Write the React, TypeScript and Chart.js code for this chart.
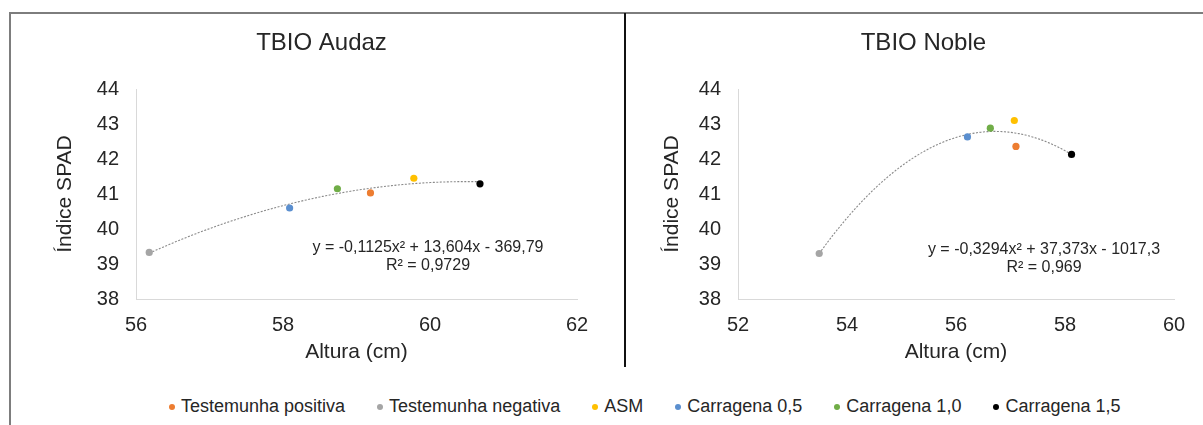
import React, { useEffect, useRef } from 'react';
import { Chart, registerables } from 'chart.js';

Chart.register(...registerables);

const FONT = '"Liberation Sans", Arial, sans-serif';
const TEXT_COLOR = '#262626';

// ---------- data ----------
const seriesLabels = [
  'Testemunha positiva',
  'Testemunha negativa',
  'ASM',
  'Carragena 0,5',
  'Carragena 1,0',
  'Carragena 1,5',
];
const seriesColors = ['#ED7D31', '#A5A5A5', '#FFC000', '#5B8FCF', '#70AD47', '#000000'];

const audazTitle = 'TBIO Audaz';
const audazAltura = [59.19, 56.18, 59.78, 58.09, 58.74, 60.68];
const audazSpad = [41.03, 39.33, 41.45, 40.6, 41.15, 41.29];
const audazAlturaTicks = [56, 58, 60, 62];
const audazEquation = ['y = -0,1125x² + 13,604x - 369,79', 'R² = 0,9729'];

const nobleTitle = 'TBIO Noble';
const nobleAltura = [57.1, 53.49, 57.07, 56.21, 56.63, 58.12];
const nobleSpad = [42.36, 39.3, 43.1, 42.63, 42.88, 42.13];
const nobleAlturaTicks = [52, 54, 56, 58, 60];
const nobleEquation = ['y = -0,3294x² + 37,373x - 1017,3', 'R² = 0,969'];

const spadTicks = [38, 39, 40, 41, 42, 43, 44];
const xAxisTitle = 'Altura (cm)';
const yAxisTitle = 'Índice SPAD';

// ---------- polynomial (order 2) trendline, least squares on the data ----------
function quadFit(xs: number[], ys: number[]) {
  const n = xs.length;
  const m = xs.reduce((s, v) => s + v, 0) / n;
  let s0 = n, s1 = 0, s2 = 0, s3 = 0, s4 = 0, t0 = 0, t1 = 0, t2 = 0;
  for (let i = 0; i < n; i++) {
    const u = xs[i] - m;
    s1 += u; s2 += u * u; s3 += u * u * u; s4 += u * u * u * u;
    t0 += ys[i]; t1 += u * ys[i]; t2 += u * u * ys[i];
  }
  const A = [
    [s4, s3, s2, t2],
    [s3, s2, s1, t1],
    [s2, s1, s0, t0],
  ];
  for (let c = 0; c < 3; c++) {
    let p = c;
    for (let r = c + 1; r < 3; r++) if (Math.abs(A[r][c]) > Math.abs(A[p][c])) p = r;
    [A[c], A[p]] = [A[p], A[c]];
    for (let r = 0; r < 3; r++) {
      if (r === c) continue;
      const f = A[r][c] / A[c][c];
      for (let k = c; k < 4; k++) A[r][k] -= f * A[c][k];
    }
  }
  const a = A[0][3] / A[0][0];
  const b = A[1][3] / A[1][1];
  const c = A[2][3] / A[2][2];
  return (x: number) => {
    const u = x - m;
    return a * u * u + b * u + c;
  };
}

function trendCurve(xs: number[], ys: number[]) {
  const f = quadFit(xs, ys);
  const lo = Math.min(...xs);
  const hi = Math.max(...xs);
  const steps = 120;
  const pts: { x: number; y: number }[] = [];
  for (let i = 0; i <= steps; i++) {
    const x = lo + ((hi - lo) * i) / steps;
    pts.push({ x, y: f(x) });
  }
  return pts;
}

// ---------- free text plugin (titles, equation labels) ----------
const panelTextPlugin = {
  id: 'panelText',
  afterDraw(chart: any, _args: any, opts: any) {
    const ctx = chart.ctx as CanvasRenderingContext2D;
    for (const t of opts.items || []) {
      ctx.save();
      ctx.font = `${t.size}px ${FONT}`;
      ctx.fillStyle = t.color || TEXT_COLOR;
      ctx.textAlign = 'center';
      ctx.textBaseline = 'middle';
      ctx.fillText(t.text, t.x, t.y);
      ctx.restore();
    }
  },
};

type PanelProps = {
  left: number;
  width: number;
  height: number;
  altura: number[];
  spad: number[];
  xTicks: number[];
  title: string;
  titleX: number;
  equation: string[];
  eqX: number;
  eqY: number;
  plotLeft: number;
  plotRight: number;
  yTitlePad: number;
};

function Panel(p: PanelProps) {
  const ref = useRef<HTMLCanvasElement | null>(null);
  useEffect(() => {
    if (!ref.current) return;
    const datasets: any[] = seriesLabels.map((label, i) => ({
      label,
      data: [{ x: p.altura[i], y: p.spad[i] }],
      backgroundColor: seriesColors[i],
      borderColor: seriesColors[i],
      pointRadius: 3.6,
      pointBorderWidth: 0,
      order: 0,
    }));
    datasets.push({
      label: 'Poly.',
      data: trendCurve(p.altura, p.spad),
      showLine: true,
      pointRadius: 0,
      borderColor: '#8a8a8a',
      borderWidth: 1.1,
      borderDash: [2, 1.5],
      fill: false,
      order: 10,
    });
    const plotTop = 89;
    const plotBottom = 299;
    const xScaleHeight = 70;
    const chart = new Chart(ref.current, {
      type: 'scatter',
      data: { datasets },
      plugins: [panelTextPlugin],
      options: {
        responsive: false,
        animation: false,
        devicePixelRatio: 1,
        layout: {
          padding: {
            left: 0,
            right: p.width - p.plotRight,
            top: plotTop,
            bottom: p.height - plotBottom - xScaleHeight,
          },
        },
        plugins: {
          legend: { display: false },
          tooltip: { enabled: false },
          title: { display: false },
          panelText: {
            items: [
              { text: p.title, x: p.titleX, y: 43, size: 24 },
              { text: p.equation[0], x: p.eqX, y: p.eqY, size: 16 },
              { text: p.equation[1], x: p.eqX, y: p.eqY + 18, size: 16 },
            ],
          },
        } as any,
        scales: {
          x: {
            type: 'linear',
            min: p.xTicks[0],
            max: p.xTicks[p.xTicks.length - 1],
            afterBuildTicks: (s: any) => {
              s.ticks = p.xTicks.map((v) => ({ value: v }));
            },
            ticks: {
              padding: 14,
              color: TEXT_COLOR,
              font: { family: FONT, size: 20 },
            },
            grid: { display: false, drawTicks: false, tickLength: 0 },
            border: { display: true, color: '#D9D9D9', width: 1 },
            title: {
              display: true,
              text: xAxisTitle,
              color: TEXT_COLOR,
              font: { family: FONT, size: 21 },
              padding: { top: 0, bottom: 4.4 },
            },
            afterFit: (s: any) => {
              s.height = xScaleHeight;
            },
          },
          y: {
            type: 'linear',
            min: spadTicks[0],
            max: spadTicks[spadTicks.length - 1],
            afterBuildTicks: (s: any) => {
              s.ticks = spadTicks.map((v) => ({ value: v }));
            },
            ticks: {
              padding: 17,
              color: TEXT_COLOR,
              font: { family: FONT, size: 20 },
            },
            grid: { display: false, drawTicks: false, tickLength: 0 },
            border: { display: true, color: '#D9D9D9', width: 1 },
            title: {
              display: true,
              text: yAxisTitle,
              color: TEXT_COLOR,
              font: { family: FONT, size: 21 },
              padding: { top: p.yTitlePad, bottom: 0 },
            },
            afterFit: (s: any) => {
              s.width = p.plotLeft;
            },
          },
        },
      },
    });
    return () => chart.destroy();
  }, []);
  return (
    <canvas
      ref={ref}
      width={p.width}
      height={p.height}
      style={{ position: 'absolute', left: p.left, top: 0, width: p.width, height: p.height }}
    />
  );
}

export default function App() {
  const rightLeft = 626;
  return (
    <div
      style={{
        position: 'fixed',
        left: 0,
        top: 0,
        width: 1203,
        height: 425,
        background: '#ffffff',
        overflow: 'hidden',
        fontFamily: FONT,
      }}
    >
      {/* frame lines */}
      <div style={{ position: 'absolute', left: 9, top: 12, width: 1194, height: 2, background: '#7d7d7d' }} />
      <div style={{ position: 'absolute', left: 9, top: 12, width: 2, height: 413, background: '#7d7d7d' }} />
      <div style={{ position: 'absolute', left: 624, top: 13, width: 2, height: 354, background: '#111111' }} />

      <Panel
        left={0}
        width={624}
        height={380}
        altura={audazAltura}
        spad={audazSpad}
        xTicks={audazAlturaTicks}
        title={audazTitle}
        titleX={321.5}
        equation={audazEquation}
        eqX={428}
        eqY={247.5}
        plotLeft={136}
        plotRight={577}
        yTitlePad={52.4}
      />
      <Panel
        left={rightLeft}
        width={577}
        height={380}
        altura={nobleAltura}
        spad={nobleSpad}
        xTicks={nobleAlturaTicks}
        title={nobleTitle}
        titleX={923.4 - rightLeft}
        equation={nobleEquation}
        eqX={1044 - rightLeft}
        eqY={250}
        plotLeft={738 - rightLeft}
        plotRight={1174 - rightLeft}
        yTitlePad={672.7 - rightLeft - 12.6}
      />

      {/* shared legend */}
      <div
        style={{
          position: 'absolute',
          left: 169,
          top: 396,
          display: 'flex',
          alignItems: 'center',
          whiteSpace: 'nowrap',
          fontSize: 18,
          lineHeight: '21px',
          color: TEXT_COLOR,
        }}
      >
        {seriesLabels.map((label, i) => (
          <span key={label} style={{ display: 'flex', alignItems: 'center', marginRight: 32 }}>
            <span
              style={{
                display: 'inline-block',
                width: 6,
                height: 6,
                borderRadius: '50%',
                background: seriesColors[i],
                marginRight: 6,
              }}
            />
            {label}
          </span>
        ))}
      </div>
    </div>
  );
}
